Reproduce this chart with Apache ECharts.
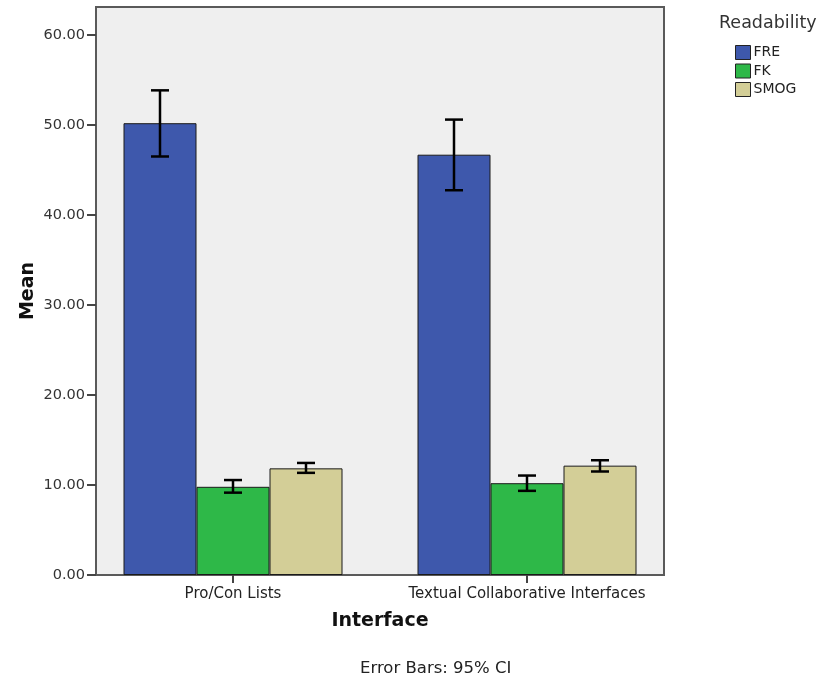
<!DOCTYPE html>
<html>
<head>
<meta charset="utf-8">
<script src="https://cdn.jsdelivr.net/npm/echarts@6/dist/echarts.min.js"></script>
<style>
html,body{margin:0;padding:0;background:#fff;}
#chart{width:834px;height:676px;}
</style>
</head>
<body>
<div id="chart"></div>
<script>
const categories = ['Pro/Con Lists', 'Textual Collaborative Interfaces'];
const seriesNames = ['FRE', 'FK', 'SMOG'];
const freMean = [50.2, 46.7];
const fkMean = [9.8, 10.2];
const smogMean = [11.85, 12.15];
const freLow = [46.5, 42.75];
const freHigh = [53.85, 50.6];
const fkLow = [9.15, 9.35];
const fkHigh = [10.55, 11.05];
const smogLow = [11.35, 11.5];
const smogHigh = [12.45, 12.75];
const colors = ['#3e58ac', '#2eb848', '#d3ce97'];

const means = [freMean, fkMean, smogMean];
const lows = [freLow, fkLow, smogLow];
const highs = [freHigh, fkHigh, smogHigh];

const FONT = 'DejaVu Sans';
const BAR_W = 73;

const chart = echarts.init(document.getElementById('chart'));

const barSeries = seriesNames.map((n, i) => ({
  name: n,
  type: 'bar',
  data: means[i],
  barWidth: BAR_W,
  barGap: '0%',
  itemStyle: { color: colors[i], borderColor: '#1a1a1a', borderWidth: 1 },
  z: 2
}));

const errSeries = seriesNames.map((n, i) => ({
  name: n + ' CI',
  type: 'custom',
  z: 10,
  data: categories.map((c, j) => [j, lows[i][j], highs[i][j]]),
  encode: { x: 0, y: [1, 2] },
  renderItem: function (params, api) {
    const off = (i - 1) * BAR_W;
    const lo = api.coord([api.value(0), api.value(1)]);
    const hi = api.coord([api.value(0), api.value(2)]);
    const x = lo[0] + off;
    const hw = 9;
    const st = { stroke: '#000', lineWidth: 2.5 };
    return {
      type: 'group',
      children: [
        { type: 'line', shape: { x1: x, y1: lo[1], x2: x, y2: hi[1] }, style: st },
        { type: 'line', shape: { x1: x - hw, y1: lo[1], x2: x + hw, y2: lo[1] }, style: st },
        { type: 'line', shape: { x1: x - hw, y1: hi[1], x2: x + hw, y2: hi[1] }, style: st }
      ]
    };
  }
}));

chart.setOption({
  animation: false,
  backgroundColor: '#ffffff',
  textStyle: { fontFamily: FONT },
  title: {
    text: 'Readability',
    left: 719, top: 14,
    padding: 0,
    textStyle: { fontFamily: FONT, fontSize: 17.5, fontWeight: 'normal', color: '#333' }
  },
  legend: {
    data: seriesNames,
    orient: 'vertical',
    left: 735, top: 45,
    padding: 0,
    itemWidth: 15, itemHeight: 14, itemGap: 3.5,
    icon: 'rect',
    itemStyle: { borderColor: '#222', borderWidth: 1 },
    textStyle: { fontFamily: FONT, fontSize: 14, color: '#222', padding: [0, 0, 0, -2] }
  },
  graphic: [
    {
      type: 'rect', z: -10, silent: true,
      shape: { x: 96, y: 7, width: 568, height: 568 },
      style: { fill: '#efefef', stroke: '#5a5a5a', lineWidth: 2 }
    },
    {
      type: 'text', left: 360, top: 660,
      style: { text: 'Error Bars: 95% CI', fontFamily: FONT, fontSize: 16.5, fill: '#222' }
    }
  ],
  grid: { left: 86, right: 160, top: 7, bottom: 101, containLabel: false },
  xAxis: {
    type: 'category',
    data: categories,
    axisLine: { show: false },
    axisTick: { show: true, alignWithLabel: true, length: 8, lineStyle: { color: '#444', width: 2 } },
    axisLabel: { fontFamily: FONT, fontSize: 15, color: '#222', margin: 12, interval: 0 },
    name: 'Interface',
    nameLocation: 'middle',
    nameGap: 37,
    nameTextStyle: { fontFamily: FONT, fontSize: 19, fontWeight: 'bold', color: '#111' }
  },
  yAxis: {
    type: 'value',
    min: 0, max: 63.11, interval: 10,
    offset: -10,
    axisLine: { show: false },
    splitLine: { show: false },
    axisTick: { show: true, length: 9, lineStyle: { color: '#444', width: 2 } },
    axisLabel: {
      fontFamily: FONT, fontSize: 14.5, color: '#333', margin: 11,
      formatter: v => v.toFixed(2),
      showMaxLabel: false
    },
    name: 'Mean',
    nameLocation: 'middle',
    nameGap: 58,
    nameMoveOverlap: false,
    nameTextStyle: { fontFamily: FONT, fontSize: 19, fontWeight: 'bold', color: '#111' }
  },
  series: barSeries.concat(errSeries)
});
</script>
</body>
</html>
